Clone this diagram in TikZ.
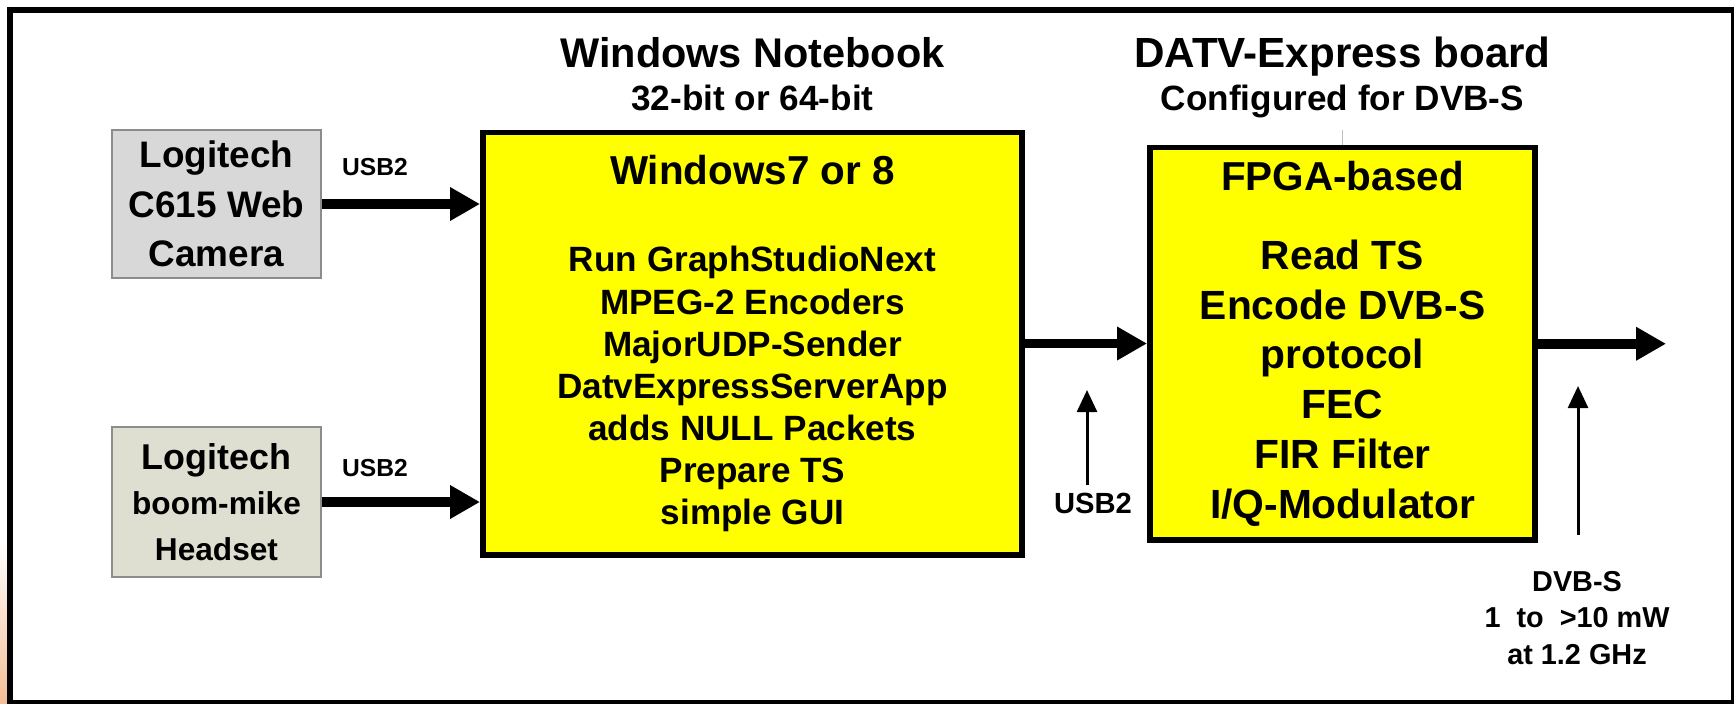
\documentclass[tikz,border=0pt]{standalone}
\usepackage{fontspec}
\setmainfont{Liberation Sans}
\usetikzlibrary{positioning}
\usetikzlibrary{arrows.meta}
\definecolor{boxyellow}{RGB}{255,255,0}
\definecolor{camgray}{RGB}{216,216,216}
\definecolor{mikegray}{RGB}{222,223,209}
\definecolor{edgegray}{RGB}{140,140,140}
\definecolor{tickgray}{RGB}{190,190,190}
\definecolor{slideorange}{RGB}{244,190,150}

\begin{document}
\begin{tikzpicture}[x=0.1mm,y=-0.1mm, font=\bfseries,
  board/.style={draw,line width=1.7pt,fill=boxyellow,align=center,inner sep=0pt},
  device/.style={draw=edgegray,line width=0.5pt,align=center,inner sep=0pt,minimum width=20.9mm},
  label/.style={inner sep=2pt,align=center},
  bigarrow/.style={line width=2.8pt,-{Triangle[length=8.5pt,width=9pt]}},
  smallarrow/.style={line width=0.85pt,-{Triangle[length=6.3pt,width=5.7pt]}}]

\useasboundingbox (0,0) rectangle (1734,703);
\fill[white] (0,0) rectangle (1734,703);
\shade[top color=white,bottom color=slideorange] (0,540) rectangle (8,703);
\draw[line width=1.7pt] (10,10) rectangle (1734,703);

\node[device,fill=camgray,minimum height=14.8mm,font=\bfseries\fontsize{10.5}{14}\selectfont] (cam) at (216.5,204) {Logitech\\ C615 Web\\ Camera};
\node[device,fill=mikegray,minimum height=15mm,font=\bfseries\fontsize{9}{13}\selectfont] (mike) at (216.5,502) {{\fontsize{10.2}{13}\selectfont Logitech}\\ boom-mike\\ Headset};

\node[board,minimum width=53.9mm,minimum height=42.2mm,font=\bfseries\fontsize{10}{12}\selectfont] (note) at (752.5,343.5) {{\fontsize{11.5}{12}\selectfont Windows7 or 8}\\[13pt] Run GraphStudioNext\\ MPEG-2 Encoders\\ MajorUDP-Sender\\ DatvExpressServerApp\\ adds NULL Packets\\ Prepare TS\\ simple GUI};
\node[board,minimum width=38.5mm,minimum height=39.25mm,font=\bfseries\fontsize{11.6}{14.2}\selectfont] (datv) at (1342.5,343.75) {{\fontsize{11.5}{14.2}\selectfont FPGA-based}\\[8.3pt] Read TS\\ Encode DVB-S\\ protocol\\ FEC\\ FIR Filter\\ I/Q-Modulator};

\node[anchor=base,font=\bfseries\fontsize{11.8}{14}\selectfont] (nbtitle) at (752.5,67) {Windows Notebook};
\node[anchor=base,font=\bfseries\fontsize{10}{12}\selectfont] (nbsub) at (752.5,110) {32-bit or 64-bit};
\node[anchor=base,font=\bfseries\fontsize{12}{14}\selectfont] (dtitle) at (1342.5,67) {DATV-Express board};
\node[anchor=base,font=\bfseries\fontsize{10}{12}\selectfont] (dsub) at (1342.5,110) {Configured for DVB-S};
\draw[tickgray,line width=0.3pt] (datv.north) -- ++(0,-15);

\node[label,font=\bfseries\fontsize{7}{8}\selectfont] (usba) at (375,167) {USB2};
\node[label,font=\bfseries\fontsize{7}{8}\selectfont] (usbb) at (375,468) {USB2};
\node[label,font=\bfseries\fontsize{8.3}{10}\selectfont] (usbc) at (1093,503) {USB2};
\node[label,font=\bfseries\fontsize{8.2}{10.4}\selectfont] (rf) at (1577,618) {DVB-S\\ 1\ \ to\ \ >10 mW\\ at 1.2 GHz};

\coordinate (out) at (1666,342);
\coordinate (usbtip) at (1087,390);
\coordinate (rftip) at (1578,386);
\coordinate (rfbot) at (1578,535);

\draw[bigarrow] (cam.east) -- (cam.east -| note.west);
\draw[bigarrow] (mike.east) -- (mike.east -| note.west);
\draw[bigarrow] (note.east) -- (note.east -| datv.west);
\draw[bigarrow] (datv.east) -- (datv.east -| out);
\draw[smallarrow] (usbtip |- usbc.north) -- (usbtip);
\draw[smallarrow] (rfbot) -- (rftip);
\end{tikzpicture}
\end{document}
